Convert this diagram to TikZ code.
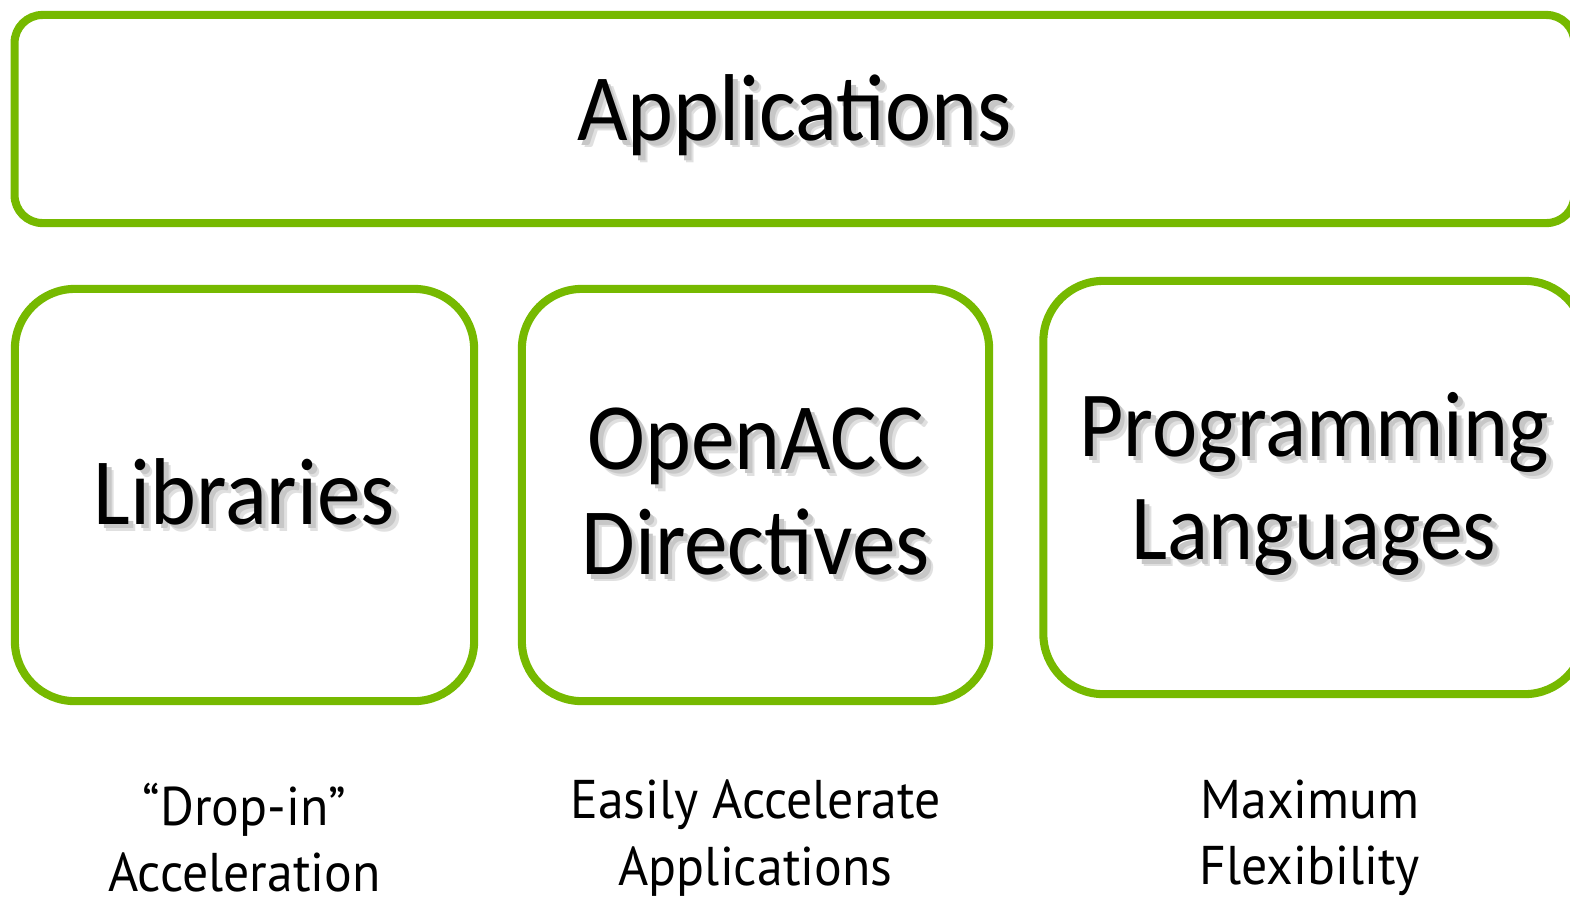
\documentclass[tikz,border=0pt]{standalone}
\usepackage{fontspec}
\setmainfont{Carlito}[FakeStretch=0.92]
\newfontfamily\capfont{PT Sans}[FakeStretch=0.95]
\usetikzlibrary{positioning}
\definecolor{nvgreen}{HTML}{76B900}
% text with a soft drop shadow
\newcommand\shtext[1]{\leavevmode
  \rlap{\kern2pt\raisebox{-2pt}{\color{black!12}#1}}%
  \rlap{\kern1.3pt\raisebox{-1.3pt}{\color{black!22}#1}}#1}

\begin{document}
\begin{tikzpicture}[
    , x = 0.01cm
    , y = -0.01cm
    , box/.style = {
      , draw = nvgreen
      , line width = 2.3pt
      , rounded corners = 0.6cm
      , align = center
      , font = \fontsize{27}{30}\selectfont
    }
    , caption/.style = {
      , align = center
      , inner sep = 0pt
      , font = \capfont\fontsize{15.5}{18.8}\selectfont
    }
  ]
    \useasboundingbox (0,0) rectangle (1570,899);
    \node (apps) [box, rounded corners = 0.28cm, minimum width = 15.59cm, minimum height = 2.08cm]
      at (794.5,119) {\shtext{Applications}};
    \node (libs) [box, minimum width = 4.59cm, minimum height = 4.12cm]
      at (244.5,495) {\shtext{Libraries}};
    \node (acc) [box, minimum width = 4.67cm, minimum height = 4.12cm]
      at (755.5,495) {\shtext{OpenACC}\\\shtext{Directives}};
    \node (lang) [box, font = \fontsize{26.5}{29.5}\selectfont, minimum width = 5.41cm, minimum height = 4.13cm]
      at (1314,487.5) {\shtext{Programming}\\\shtext{Languages}};
    \node (libs-c) [caption] at (244.5,838) {“Drop-in”\\Acceleration};
    \node (acc-c) [caption] at (755.5,838) {Easily Accelerate\\Applications};
    \node (lang-c) [caption] at (1310,838) {Maximum\\Flexibility};
  \end{tikzpicture}
\end{document}
